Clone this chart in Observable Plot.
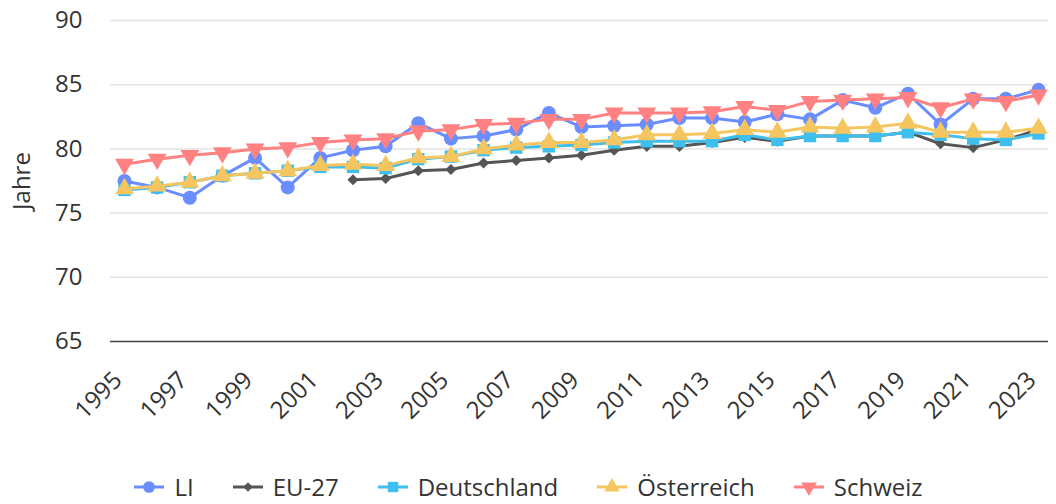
<!DOCTYPE html>
<html><head><meta charset="utf-8">
<script src="https://cdn.jsdelivr.net/npm/d3@7"></script>
<script src="https://cdn.jsdelivr.net/npm/@observablehq/plot@0.6"></script>
<style>
html,body{margin:0;background:#fff;font-family:"Open Sans",sans-serif;overflow:hidden;}
#chart svg{display:block;}
#legend{display:flex;justify-content:center;align-items:center;height:30px;line-height:30px;font-size:24px;color:#333;}
.item{display:flex;align-items:center;margin:0 19px;}
.item svg{margin-right:9px;}
</style></head><body><div id="chart"></div><div id="legend"></div>
<script>
const years = [1995,1996,1997,1998,1999,2000,2001,2002,2003,2004,2005,2006,2007,2008,2009,2010,2011,2012,2013,2014,2015,2016,2017,2018,2019,2020,2021,2022,2023];
const tickYears = [1995,1997,1999,2001,2003,2005,2007,2009,2011,2013,2015,2017,2019,2021,2023];
const yTicks = [65,70,75,80,85,90];
const seriesNames = ["LI","EU-27","Deutschland","Österreich","Schweiz"];
const li = [77.5,77.0,76.2,77.9,79.3,77.0,79.3,79.9,80.2,82.0,80.8,81.0,81.5,82.8,81.7,81.8,81.9,82.4,82.4,82.1,82.7,82.3,83.8,83.2,84.3,81.9,83.9,83.9,84.6];
const euYears = [2002,2003,2004,2005,2006,2007,2008,2009,2010,2011,2012,2013,2014,2015,2016,2017,2018,2019,2020,2021,2022,2023];
const eu = [77.6,77.7,78.3,78.4,78.9,79.1,79.3,79.5,79.9,80.2,80.2,80.5,80.9,80.6,81.0,81.0,81.0,81.3,80.4,80.1,80.7,81.5];
const de = [76.8,77.0,77.4,77.9,78.1,78.3,78.6,78.6,78.5,79.2,79.4,79.9,80.1,80.2,80.3,80.5,80.6,80.6,80.6,81.1,80.7,81.0,81.0,81.0,81.3,81.1,80.8,80.7,81.2];
const at = [76.9,77.1,77.4,77.9,78.1,78.3,78.7,78.8,78.7,79.3,79.4,80.0,80.3,80.5,80.5,80.7,81.1,81.1,81.2,81.5,81.3,81.7,81.6,81.7,82.0,81.3,81.3,81.3,81.6];
const ch = [78.8,79.2,79.5,79.7,80.0,80.1,80.5,80.7,80.8,81.4,81.5,81.9,82.0,82.3,82.3,82.8,82.8,82.8,82.9,83.3,83.0,83.7,83.8,83.9,84.0,83.2,83.9,83.7,84.2];

const colors = ["#6a8dff","#555555","#3ebfed","#f5c65f","#ff8181"];
const symbols = ["circle","diamond2","square","triangle","triangle"];
const rotates = [0,0,0,0,180];
const radii = [7,5,7,7,7];

const rows = [];
years.forEach((y,i)=>{
  rows.push({s:"LI",year:y,v:li[i]});
  rows.push({s:"Deutschland",year:y,v:de[i]});
  rows.push({s:"Österreich",year:y,v:at[i]});
  rows.push({s:"Schweiz",year:y,v:ch[i]});
});
euYears.forEach((y,i)=>rows.push({s:"EU-27",year:y,v:eu[i]}));

const marks = [
  Plot.ruleY(yTicks.filter(d=>d>65),{stroke:"#e3e3e3",strokeWidth:1.5}),
  Plot.ruleY([65],{stroke:"#444",strokeWidth:1.5}),
  Plot.axisY({ticks:yTicks,tickSize:0,tickPadding:28,fontSize:24,fill:"#333",label:"Jahre",labelAnchor:"center",labelArrow:"none",labelOffset:98}),
  Plot.text(tickYears,{x:d=>d,frameAnchor:"bottom",rotate:-45,textAnchor:"end",dx:-1,dy:40,fontSize:24,fill:"#333",text:d=>String(d)})
];
seriesNames.forEach((name,k)=>{
  const data = rows.filter(r=>r.s===name);
  marks.push(Plot.line(data,{x:"year",y:"v",stroke:colors[k],strokeWidth:3}));
  marks.push(Plot.dot(data,{x:"year",y:"v",fill:colors[k],stroke:"none",symbol:symbols[k],r:radii[k],rotate:rotates[k]}));
});

const plot = Plot.plot({
  width:1056,height:472,
  marginLeft:110,marginRight:8,marginTop:20,marginBottom:131,
  insetLeft:14,insetRight:10,
  style:{fontFamily:"'Open Sans',sans-serif",fontSize:"24px",color:"#333",background:"#fff",overflow:"visible"},
  x:{type:"linear",domain:[1995,2023],axis:null},
  y:{domain:[65,90]},
  marks
});
document.getElementById("chart").appendChild(plot);

const legend = d3.select("#legend");
seriesNames.forEach((name,k)=>{
  const it = legend.append("div").attr("class","item");
  const svg = it.append("svg").attr("width",32).attr("height",20);
  svg.append("line").attr("x1",1).attr("x2",31).attr("y1",10).attr("y2",10).attr("stroke",colors[k]).attr("stroke-width",3);
  const sym = {circle:d3.symbolCircle,diamond2:d3.symbolDiamond2,square:d3.symbolSquare,triangle:d3.symbolTriangle}[symbols[k]];
  svg.append("path").attr("d",d3.symbol(sym, Math.PI*radii[k]*radii[k]*0.7)()).attr("fill",colors[k])
    .attr("transform",`translate(16,10) rotate(${rotates[k]})`);
  it.append("span").text(name);
});
</script></body></html>
